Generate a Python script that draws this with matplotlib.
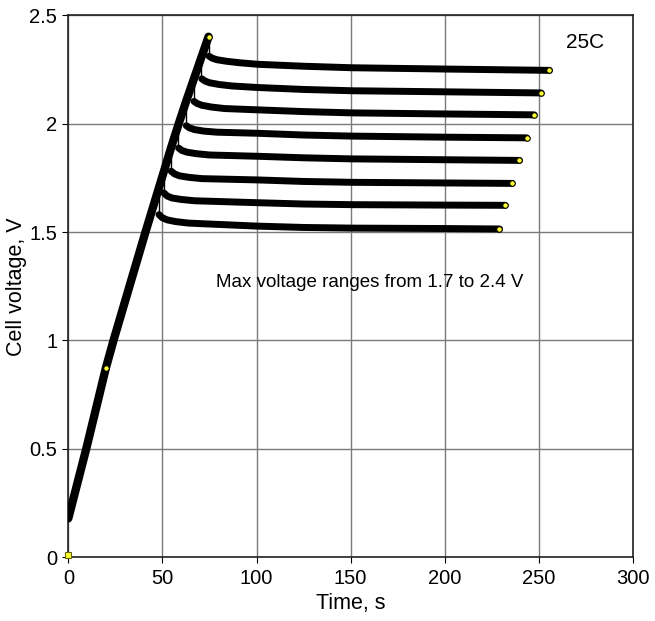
"""
Cell voltage during constant-current charge to a set max voltage, then rest.
Eight runs, max voltage 1.7 to 2.4 V, at 25C.
"""

import matplotlib.pyplot as plt

# shared charge ramp (time s, voltage V)
charge_t = [0, 9.5, 20, 24, 32.5, 41, 44.5, 48, 51.5, 55, 58.7, 62.5, 66.5, 70.5, 74.5]
charge_v = [0.18, 0.50, 0.875, 1.0, 1.25, 1.5, 1.6, 1.7, 1.8, 1.9, 2.0, 2.1, 2.2, 2.3, 2.4]

max_v = [2.4, 2.3, 2.2, 2.1, 2.0, 1.9, 1.8, 1.7]
peak_t = [74.6, 70.7, 66.6, 62.5, 58.4, 54.5, 50.6, 48.0]

# relaxation after the charge stops, one list per run
rest_t = [
    [74.8, 76.5, 79, 84, 91, 100.6, 125, 150.8, 200.9, 255.6],
    [70.9, 72.6, 75, 80, 87, 100.6, 125, 150.8, 200.9, 251.2],
    [66.8, 68.5, 71, 76, 83, 100.6, 125, 150.8, 200.9, 247.5],
    [62.7, 64.4, 67, 72, 79, 100.6, 125, 150.8, 200.9, 243.5],
    [58.6, 60.3, 63, 68, 75, 100.6, 125, 150.8, 200.9, 239.7],
    [54.7, 56.4, 59, 64, 71, 100.6, 125, 150.8, 200.9, 235.8],
    [50.8, 52.5, 55, 60, 67, 100.6, 125, 150.8, 200.9, 232.1],
    [48.2, 49.9, 52.5, 57, 64, 100.6, 125, 150.8, 200.0, 229.1],
]
rest_v = [
    [2.310, 2.301, 2.294, 2.287, 2.280, 2.273, 2.264, 2.257, 2.251, 2.245],
    [2.206, 2.196, 2.188, 2.180, 2.173, 2.166, 2.157, 2.151, 2.146, 2.141],
    [2.102, 2.092, 2.084, 2.076, 2.069, 2.063, 2.055, 2.049, 2.044, 2.040],
    [1.990, 1.980, 1.972, 1.965, 1.960, 1.955, 1.947, 1.942, 1.937, 1.934],
    [1.887, 1.876, 1.868, 1.861, 1.855, 1.849, 1.842, 1.837, 1.833, 1.830],
    [1.780, 1.768, 1.759, 1.752, 1.746, 1.740, 1.733, 1.729, 1.726, 1.724],
    [1.680, 1.666, 1.657, 1.650, 1.644, 1.635, 1.629, 1.626, 1.624, 1.623],
    [1.580, 1.566, 1.556, 1.548, 1.541, 1.527, 1.521, 1.518, 1.516, 1.514],
]

# sparse logged points shown as markers on the ramp
ramp_mark_t = [0, 20, 74.6]
ramp_mark_v = [0.01, 0.875, 2.40]

x_ticks = [0, 50, 100, 150, 200, 250, 300]
y_ticks = [0, 0.5, 1, 1.5, 2, 2.5]
y_labels = ["0", "0.5", "1", "1.5", "2", "2.5"]

plt.rcParams["font.family"] = ["Liberation Sans", "DejaVu Sans"]

fig = plt.figure(figsize=(6.55, 6.21), dpi=100)
ax = fig.add_axes([0.1043, 0.1023, 0.862, 0.8735])

ax.plot(charge_t, charge_v, color="black", lw=6, solid_capstyle="round", zorder=3)

for vm, tp, ts, vs in zip(max_v, peak_t, rest_t, rest_v):
    # instant drop when the current is cut
    ax.plot([tp, tp], [vm, vs[0]], color="black", lw=1, zorder=3)
    ax.plot(ts, vs, color="black", lw=5, solid_capstyle="round",
            solid_joinstyle="round", zorder=3)
    ax.plot(ts[-1], vs[-1], "o", ms=4, mfc="#ffff33", mec="black", mew=0.8, zorder=4)

ax.plot(ramp_mark_t[1:], ramp_mark_v[1:], "o", ms=4, mfc="#ffff33", mec="black",
        mew=0.8, zorder=4)
ax.plot(ramp_mark_t[0], ramp_mark_v[0], "s", ms=4.5, mfc="#ffff33", mec="#666600",
        mew=0.8, zorder=4, clip_on=False)

ax.text(78.6, 1.266, "Max voltage ranges from 1.7 to 2.4 V", fontsize=13.5,
        va="center", ha="left")
ax.text(274.8, 2.373, "25C", fontsize=15, va="center", ha="center")

ax.set_xlim(0, 300)
ax.set_ylim(0, 2.5)
ax.set_xticks(x_ticks)
ax.set_yticks(y_ticks)
ax.set_yticklabels(y_labels)
ax.grid(True, color="#7a7a7a", lw=1)
ax.set_axisbelow(True)
ax.tick_params(direction="out", length=4, width=0.8, labelsize=14.5, pad=4)
for s in ax.spines.values():
    s.set_linewidth(1.2)
    s.set_color("#222222")

ax.set_xlabel("Time, s", fontsize=15.5, labelpad=4)
ax.set_ylabel("Cell voltage, V", fontsize=15.5)
ax.yaxis.set_label_coords(-0.074, 0.5)

fig.savefig("out.png", dpi=100)
